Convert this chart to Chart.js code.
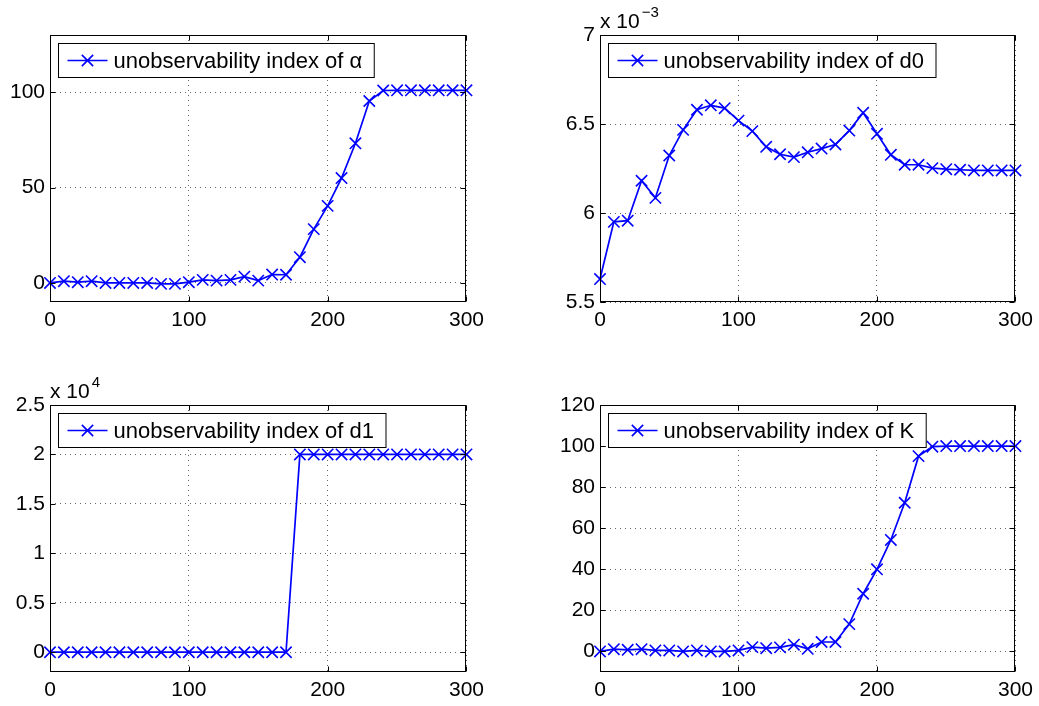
<!DOCTYPE html>
<html><head><meta charset="utf-8">
<script src="https://cdn.jsdelivr.net/npm/chart.js@4.4.0/dist/chart.umd.min.js"></script>
<style>
html,body{margin:0;padding:0;background:#fff;width:1039px;height:706px;overflow:hidden;}
canvas{position:absolute;}
</style></head><body>
<canvas id="c1" width="490" height="342" style="left:0px;top:0px"></canvas>
<canvas id="c2" width="489" height="342" style="left:550px;top:0px"></canvas>
<canvas id="c3" width="490" height="336" style="left:0px;top:370px"></canvas>
<canvas id="c4" width="489" height="336" style="left:550px;top:370px"></canvas>
<script>
// ---- data ----
const xValues = [0,10,20,30,40,50,60,70,80,90,100,110,120,130,140,150,160,170,180,190,200,210,220,230,240,250,260,270,280,290,300];
const alphaIndex = [0,0.9,0.4,0.9,0,0,0,0,-0.5,-0.5,0.4,1.6,1.2,1.6,3.3,1.2,4.4,4.3,13.5,28.2,40.4,55,73.2,95.4,100.9,101,101,101,101,101,101];
const d0Index = [5.629,5.95,5.957,6.181,6.085,6.323,6.467,6.58,6.605,6.589,6.519,6.46,6.372,6.33,6.314,6.341,6.362,6.385,6.463,6.563,6.445,6.327,6.271,6.271,6.252,6.246,6.243,6.239,6.239,6.239,6.239];
const d1Index = [0,0,0,0,0,0,0,0,0,0,0,0,0,0,0,0,0,0,2,2,2,2,2,2,2,2,2,2,2,2,2];
const kIndex = [0,1.1,0.8,1.1,0.5,0.5,0,0.5,0,0,0.5,2.1,1.6,2,3.3,1.3,4.6,4.6,13.3,28.1,40,54.3,72.4,95.1,99.7,100,100,100,100,100,100];

const xTicks = [0,100,200,300];
const xTickLabels = ['0','100','200','300'];
const alphaTicks = [0,50,100];
const alphaTickLabels = ['0','50','100'];
const d0Ticks = [5.5,6,6.5,7];
const d0TickLabels = ['5.5','6','6.5','7'];
const d1Ticks = [0,0.5,1,1.5,2,2.5];
const d1TickLabels = ['0','0.5','1','1.5','2','2.5'];
const kTicks = [0,20,40,60,80,100,120];
const kTickLabels = ['0','20','40','60','80','100','120'];

const legendLabels = ['unobservability index of \u03b1','unobservability index of d0','unobservability index of d1','unobservability index of K'];

// ---- styling ----
const FONT = "'Liberation Sans', Arial, Helvetica, sans-serif";
const BLUE = '#0000ff';
Chart.defaults.color = '#000';

function drawCross(ctx, x, y, r) {
  const o = Math.SQRT1_2 * r;
  ctx.moveTo(x - o, y - o); ctx.lineTo(x + o, y + o);
  ctx.moveTo(x + o, y - o); ctx.lineTo(x - o, y + o);
}

const framePlugin = {
  id: 'frame',
  afterDraw(chart, args, opts) {
    const {ctx, chartArea: a, scales} = chart;
    const sx = scales.x, sy = scales.y;
    ctx.save();
    ctx.strokeStyle = '#000';
    ctx.lineWidth = 1;
    ctx.setLineDash([]);
    ctx.beginPath();
    const L = Math.round(a.left) + 0.5, R = Math.round(a.right) - 0.5;
    const T = Math.round(a.top) + 0.5, B = Math.round(a.bottom) - 0.5;
    sx.ticks.forEach(t => {
      const p = Math.round(sx.getPixelForValue(t.value)) + 0.5;
      ctx.moveTo(p, B); ctx.lineTo(p, B - 5);
      ctx.moveTo(p, T); ctx.lineTo(p, T + 5);
    });
    sy.ticks.forEach(t => {
      const p = Math.round(sy.getPixelForValue(t.value)) + 0.5;
      ctx.moveTo(L, p); ctx.lineTo(L + 5, p);
      ctx.moveTo(R, p); ctx.lineTo(R - 5, p);
    });
    ctx.stroke();
    ctx.strokeRect(L, T, R - L, B - T);

    // legend box
    const label = chart.data.datasets[0].label;
    ctx.font = '22px ' + FONT;
    const tw = ctx.measureText(label).width;
    const bx = L + 8, by = T + 8, bw = 55 + tw + 12, bh = opts.legendH || 34;
    ctx.fillStyle = '#fff';
    ctx.fillRect(bx, by, bw, bh);
    ctx.strokeRect(bx, by, bw, bh);
    const cy = by + bh / 2;
    ctx.strokeStyle = BLUE;
    ctx.lineWidth = 1.6;
    ctx.beginPath();
    ctx.moveTo(bx + 9, cy); ctx.lineTo(bx + 49, cy);
    drawCross(ctx, bx + 29, cy, 8);
    ctx.stroke();
    ctx.fillStyle = '#000';
    ctx.textBaseline = 'middle';
    ctx.textAlign = 'left';
    ctx.fillText(label, bx + 55, cy + 1);

    // exponent label
    if (opts.exponent) {
      ctx.textBaseline = 'alphabetic';
      ctx.font = '21px ' + FONT;
      ctx.fillText('x 10', a.left, a.top - 7);
      const w = ctx.measureText('x 10').width;
      ctx.font = '15px ' + FONT;
      ctx.fillText(opts.exponent, a.left + w + 2, a.top - 18);
    }
    ctx.restore();
  }
};

function makeChart(id, values, label, yMin, yMax, yTicks, yTickLabels, xAxisH, exponent) {
  const ctx = document.getElementById(id);
  return new Chart(ctx, {
    type: 'line',
    data: {
      datasets: [{
        label: label,
        data: xValues.map((x, i) => ({x: x, y: values[i]})),
        borderColor: BLUE,
        backgroundColor: BLUE,
        borderWidth: 1.7,
        pointStyle: 'crossRot',
        pointRadius: 8,
        pointBorderWidth: 1.6,
        pointBorderColor: BLUE,
        tension: 0,
        fill: false,
        clip: false
      }]
    },
    options: {
      responsive: false,
      animation: false,
      devicePixelRatio: 1,
      layout: {padding: {top: 35, right: 22, left: 0, bottom: 0}},
      plugins: {
        legend: {display: false},
        tooltip: {enabled: false},
        frame: {exponent: exponent}
      },
      scales: {
        x: {
          type: 'linear',
          min: 0, max: 300,
          afterBuildTicks: s => { s.ticks = xTicks.map(v => ({value: v})); },
          afterFit: s => { s.height = xAxisH; },
          ticks: {
            font: {family: FONT, size: 21},
            color: '#000',
            padding: 6,
            maxRotation: 0,
            callback: (v) => xTickLabels[xTicks.indexOf(v)]
          },
          grid: {color: 'rgba(0,0,0,0.6)', lineWidth: 1, drawTicks: false},
          border: {display: false, dash: [1, 4]}
        },
        y: {
          type: 'linear',
          min: yMin, max: yMax,
          afterBuildTicks: s => { s.ticks = yTicks.map(v => ({value: v})); },
          afterFit: s => { s.width = 50; },
          ticks: {
            font: {family: FONT, size: 21},
            color: '#000',
            padding: 5,
            callback: (v) => yTickLabels[yTicks.indexOf(v)]
          },
          grid: {color: 'rgba(0,0,0,0.6)', lineWidth: 1, drawTicks: false},
          border: {display: false, dash: [1, 4]}
        }
      }
    },
    plugins: [framePlugin]
  });
}

makeChart('c1', alphaIndex, legendLabels[0], -10, 130, alphaTicks, alphaTickLabels, 40, null);
makeChart('c2', d0Index, legendLabels[1], 5.5, 7, d0Ticks, d0TickLabels, 40, '\u22123');
makeChart('c3', d1Index, legendLabels[2], -0.2, 2.5, d1Ticks, d1TickLabels, 34, '4');
makeChart('c4', kIndex, legendLabels[3], -10, 120, kTicks, kTickLabels, 34, null);
</script>
</body></html>
